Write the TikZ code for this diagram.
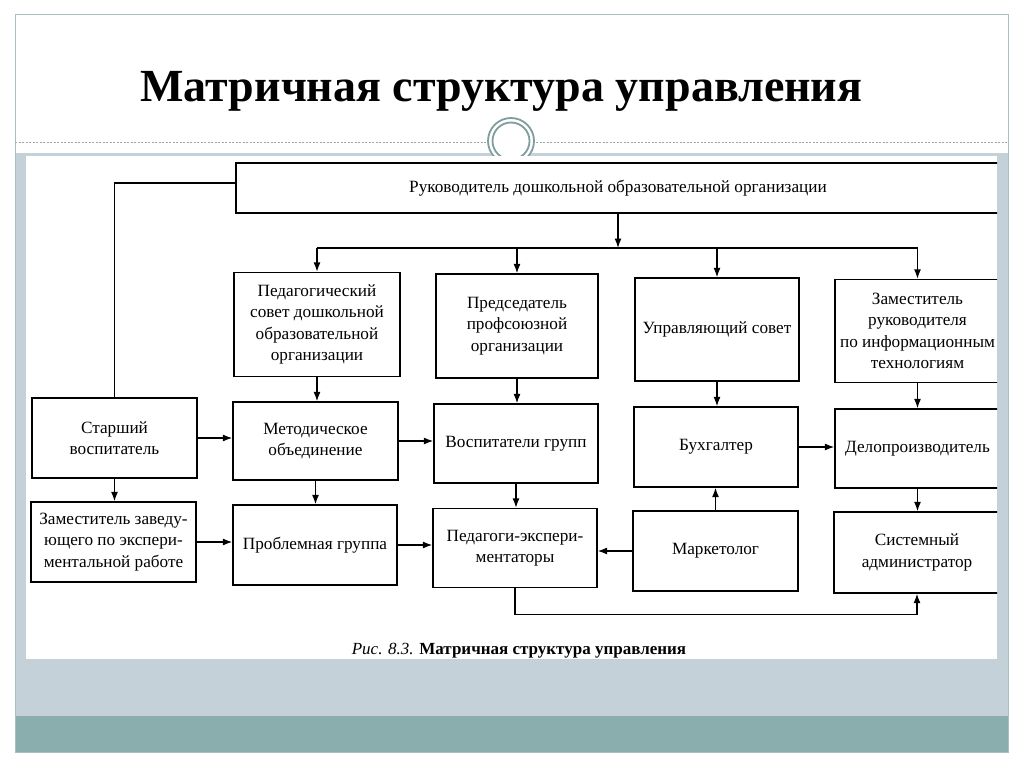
\documentclass[tikz,border=0pt]{standalone}
\usepackage{fontspec}
\setmainfont{Liberation Serif}
\usetikzlibrary{arrows.meta}
\definecolor{band}{HTML}{C5D1D8}
\definecolor{teal2}{HTML}{8AADAD}
\definecolor{frame}{HTML}{AEBDC3}
\definecolor{ring}{HTML}{7F9D9D}
\definecolor{dots}{HTML}{9AA8AC}
\tikzset{
  box/.style={draw, line width=1.3pt, align=center, inner sep=0pt,
    font=\fontsize{17.2}{21.5}\selectfont},
  conn/.style={line width=1.3pt},
  arr/.style={line width=1.3pt, -{Latex[length=9.5pt,width=7pt]}},
}
\begin{document}
\begin{tikzpicture}[x=1pt,y=-1pt]
\useasboundingbox (0,0) rectangle (1024,767);
\fill[white] (0,0) rectangle (1024,767);
% slide frame
\fill[band] (15,153) rectangle (1008,716);
\fill[teal2] (15,716) rectangle (1008,752);
\draw[frame, line width=1pt] (15,15) rectangle (1008,752);
\draw[dots, line width=0.8pt, dash pattern=on 2pt off 1.5pt] (15,142) -- (486,142);
\draw[dots, line width=0.8pt, dash pattern=on 2pt off 1.5pt] (536,142) -- (1008,142);
\fill[white] (511,141) circle (24);
\draw[ring, line width=1.8pt] (511,141) circle (23);
\draw[ring, line width=1.8pt] (511,141) circle (18.5);
\fill[white] (26,156) rectangle (997,659);
% title
\node[anchor=base, font=\fontsize{46}{52}\selectfont\bfseries] (title) at (501.5,102) {Матричная структура управления};
% diagram
\begin{scope}
\clip (26,156) rectangle (997,659);
\node[box, minimum width=764, minimum height=50] (top) at (618,188) {Руководитель дошкольной образовательной организации};
% row 1
\node[box, minimum width=166, minimum height=104] (p1) at (317,324.5) {Педагогический\\совет дошкольной\\образовательной\\организации};
\node[box, minimum width=162, minimum height=104] (p2) at (517,326) {Председатель\\профсоюзной\\организации};
\node[box, minimum width=164, minimum height=103] (p3) at (717,329.5) {Управляющий совет};
\node[box, minimum width=165, minimum height=103] (p4) at (917.5,331) {Заместитель\\руководителя\\по информационным\\технологиям};
% row 2
\node[box, minimum width=165, minimum height=80] (s1) at (114.5,438) {Старший\\воспитатель};
\node[box, minimum width=165, minimum height=78] (m2) at (315.5,441) {Методическое\\объединение};
\node[box, minimum width=164, minimum height=79] (v3) at (516,443.5) {Воспитатели групп};
\node[box, minimum width=164, minimum height=80] (b4) at (716,447) {Бухгалтер};
\node[box, minimum width=165, minimum height=79] (d5) at (917.5,448.5) {Делопроизводитель};
% row 3
\node[box, minimum width=165, minimum height=80] (z1) at (113.5,542) {Заместитель заведу-\\ющего по экспери-\\ментальной работе};
\node[box, minimum width=164, minimum height=80] (g2) at (315,545) {Проблемная группа};
\node[box, minimum width=164, minimum height=79] (e3) at (515,548) {Педагоги-экспери-\\ментаторы};
\node[box, minimum width=165, minimum height=80] (k4) at (715.5,551) {Маркетолог};
\node[box, minimum width=166, minimum height=81] (a5) at (917,552.5) {Системный\\администратор};
% connectors
\coordinate (bus) at (618,248);
\draw[conn] ([yshift=5pt]top.west) -| (s1.north);
\draw[arr] (top.south) -- (bus);
\draw[conn] (p1.north |- bus) -- (p4.north |- bus);
\draw[arr] (p1.north |- bus) -- (p1.north);
\draw[arr] (p2.north |- bus) -- (p2.north);
\draw[arr] (p3.north |- bus) -- (p3.north);
\draw[arr] (p4.north |- bus) -- (p4.north);
\draw[arr] (p1.south) -- (p1.south |- m2.north);
\draw[arr] (p2.south) -- (p2.south |- v3.north);
\draw[arr] (p3.south) -- (p3.south |- b4.north);
\draw[arr] (p4.south) -- (p4.south |- d5.north);
\draw[arr] (s1.south) -- (s1.south |- z1.north);
\draw[arr] (m2.south) -- (m2.south |- g2.north);
\draw[arr] (v3.south) -- (v3.south |- e3.north);
\draw[arr] (k4.north) -- (k4.north |- b4.south);
\draw[arr] (d5.south) -- (d5.south |- a5.north);
\draw[arr] (s1.east) -- (s1.east -| m2.west);
\draw[arr] (m2.east) -- (m2.east -| v3.west);
\draw[arr] (b4.east) -- (b4.east -| d5.west);
\draw[arr] (z1.east) -- (z1.east -| g2.west);
\draw[arr] (g2.east) -- (g2.east -| e3.west);
\draw[arr] (k4.west) -- (k4.west -| e3.east);
\draw[arr] (e3.south) -- ++(0,26) -| (a5.south);
\node[anchor=base, font=\fontsize{17}{20}\selectfont] (cap) at (519,654) {\textit{Рис. 8.3.} \textbf{Матричная структура управления}};
\end{scope}
\end{tikzpicture}
\end{document}
